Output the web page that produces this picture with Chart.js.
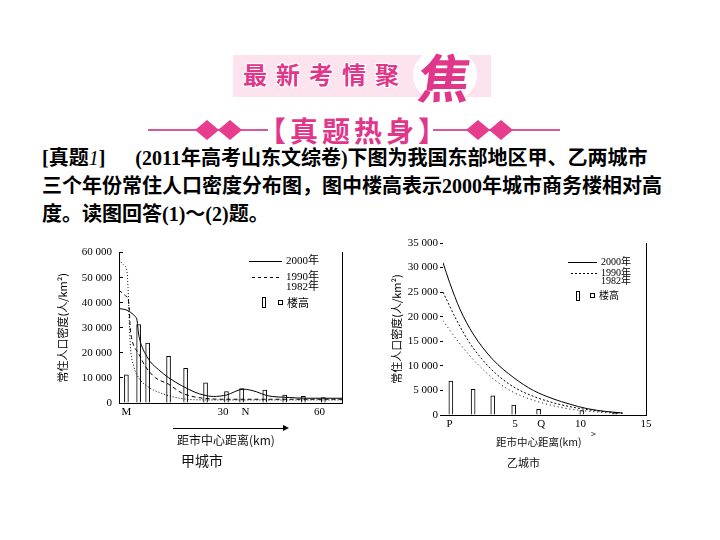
<!DOCTYPE html>
<html>
<head>
<meta charset="utf-8">
<script src="https://cdn.jsdelivr.net/npm/chart.js@4.4.1/dist/chart.umd.min.js"></script>
<style>
body { margin: 0; background: #fff; }
#page { position: relative; width: 720px; height: 540px; overflow: hidden; font-family: "Liberation Serif", "Noto Sans CJK SC", serif; }
.abs { position: absolute; white-space: nowrap; }
.band { left: 233px; top: 55px; width: 258px; height: 42px; background: #fce3ee; }
.circle { left: 413px; top: 47px; width: 64px; height: 56px; border-radius: 50%; background: #fff; }
.head1 { left: 243px; top: 62px; font: bold 24px/24px "Noto Sans CJK SC"; letter-spacing: 9px; color: #e0378a;
	text-shadow: 1px 1px 0 #fff, -1px -1px 0 #fff, 1px -1px 0 #fff, -1px 1px 0 #fff, 0 0 3px #fff; }
.jiao { left: 419px; top: 50px; font: bold 52px/52px "Noto Sans CJK SC"; color: #e0378a; transform: skewX(-8deg); }
.hline { height: 2px; background: #d9589b; top: 129px; }
.dia { width: 24px; height: 20px; background: #e63d8f; clip-path: polygon(50% 0, 100% 50%, 50% 100%, 0 50%); top: 120px; }
.head2 { left: 258px; top: 115px; font: bold 28px/30px "Noto Sans CJK SC"; letter-spacing: 4px; color: #e0378a; }
.q { left: 42px; font-size: 20px; font-weight: bold; line-height: 28px; color: #000; }
.cn { font-family: "Noto Sans CJK SC"; color: #111; line-height: 16px; }
canvas { position: absolute; }
</style>
</head>
<body>
<div id="page">
	<div class="abs band"></div>
	<div class="abs circle"></div>
	<div class="abs head1">最新考情聚</div>
	<div class="abs jiao">焦</div>

	<div class="abs hline" style="left:148px;width:120px"></div>
	<div class="abs hline" style="left:433px;width:127px"></div>
	<div class="abs dia" style="left:195px"></div>
	<div class="abs dia" style="left:218px"></div>
	<div class="abs dia" style="left:466px"></div>
	<div class="abs dia" style="left:489px"></div>
	<div class="abs head2">【真题热身】</div>

	<div class="abs q" style="top:144px">[真题<i style="font-weight:normal">1</i>]<span style="margin-left:30px">(2011年高考山东文综卷)下图为我国东部地区甲、乙两城市</span></div>
	<div class="abs q" style="top:172px">三个年份常住人口密度分布图，图中楼高表示2000年城市商务楼相对高</div>
	<div class="abs q" style="top:200px">度。读图回答(1)～(2)题。</div>

	<canvas id="chartA" width="320" height="240" style="left:40px;top:235px"></canvas>
	<canvas id="chartB" width="300" height="250" style="left:380px;top:230px"></canvas>

	<div class="abs" style="left:173px;top:428px;width:112px;height:0;border-top:1px solid #000"></div>
	<div class="abs" style="left:283px;top:425px;width:0;height:0;border-left:6px solid #000;border-top:3px solid transparent;border-bottom:3px solid transparent"></div>
	<div class="abs cn" style="left:177px;top:432px;font-size:12px">距市中心距离(km)</div>
	<div class="abs cn" style="left:181px;top:452px;font-size:14px">甲城市</div>

	<div class="abs cn" style="left:591px;top:426px;font-size:9px">&gt;</div>
	<div class="abs cn" style="left:496px;top:434px;font-size:10.5px">距市中心距离(km)</div>
	<div class="abs cn" style="left:507px;top:454px;font-size:11px">乙城市</div>
</div>

<script>
// 甲城市
const distA2000 = [-2.3, 0.2, 2.3, 2.8, 3.3, 3.8, 4.9, 6.4, 7.4, 10, 13.1, 17.2, 21.3, 24, 27, 31.1, 36.3, 40.4, 43.5, 50.7, 55.9, 67];
const popA2000 = [37700, 37000, 35100, 34500, 33000, 27500, 22300, 18500, 16500, 13300, 10100, 6900, 4300, 3200, 2600, 3200, 5500, 4500, 3000, 2200, 1900, 1900];
const distA1990 = [-2.3, -0.3, 0.7, 1.2, 1.8, 3.8, 5.9, 9, 13.1, 17.2, 21.3, 24, 30, 67];
const popA1990 = [45000, 42800, 40300, 30000, 24900, 19700, 14600, 10100, 7500, 4000, 2400, 1900, 1500, 1500];
const distA1982 = [-2.3, -0.8, 0.2, 0.5, 1.2, 2.3, 3.8, 6.9, 10, 14.6, 21.3, 30, 67];
const popA1982 = [57000, 55000, 52400, 46000, 23600, 14600, 10100, 6300, 4300, 2400, 1300, 1200, 1200];
const barDistA = [0, 3.8, 6.6, 13.1, 18.4, 24.6, 31.1, 35.8, 43, 49.2, 55, 61.2];
const barHeightA = [11200, 31300, 23900, 18600, 13800, 8000, 4600, 5800, 5200, 3200, 2700, 2200];
const xTickValsA = [0, 30, 37, 60];
const xTickTextA = ['M', '30', 'N', '60'];

// 乙城市
const distB2000 = [-0.5, 0, 0.8, 1.8, 3.3, 4.9, 6.4, 7.9, 9.2, 10.5, 12, 13.2];
const popB2000 = [31000, 27000, 21500, 16500, 11300, 7600, 5000, 3300, 2200, 1300, 700, 400];
const distB1990 = [-0.5, 0.5, 1.5, 2.5, 3.5, 4.9, 6.4, 7.9, 9.2, 10.5, 12, 13.2];
const popB1990 = [25000, 19500, 14800, 11300, 8500, 5700, 3800, 2500, 1700, 1100, 650, 450];
const distB1982 = [-0.5, 0.5, 1.5, 2.5, 3.5, 4.9, 6.4, 7.9, 9.2, 10.5, 12, 13.2];
const popB1982 = [19200, 15500, 12200, 9400, 7000, 4600, 3000, 1900, 1200, 800, 450, 300];
const barDistB = [0.1, 1.8, 3.3, 4.9, 6.8, 10.1, 12.6];
const barHeightB = [6900, 5200, 3900, 2000, 1150, 900, 350];
const xTickValsB = [0, 5, 7, 10, 15];
const xTickTextB = ['P', '5', 'Q', '10', '15'];

const yTitle = '常住人口密度(人/km²)';
const years = ['2000年', '1990年', '1982年'];
const buildingLabel = '楼高';

Chart.defaults.font.family = '"Liberation Serif", serif';
Chart.defaults.font.size = 11;
Chart.defaults.color = '#000';

const pts = (xs, ys) => xs.map((x, i) => ({ x: x, y: ys[i] }));
const fmt = v => v === 0 ? '0' : (v / 1000) + ' 000';

const lineSet = (label, xs, ys, dash) => ({
	type: 'line',
	label: label,
	data: pts(xs, ys),
	borderColor: '#000',
	borderWidth: 1,
	borderDash: dash,
	pointRadius: 0,
	fill: false,
	cubicInterpolationMode: 'monotone',
	order: 1,
});

const barSet = (xs, ys) => ({
	type: 'bar',
	label: buildingLabel,
	data: pts(xs, ys),
	backgroundColor: '#fff',
	borderColor: '#000',
	borderWidth: 1,
	barThickness: 4,
	order: 2,
});

// draws the small legend in the top right of each plot
const legendPlugin = (p) => ({
	id: 'yearLegend',
	afterDraw(chart) {
		const ctx = chart.ctx;
		ctx.save();
		ctx.strokeStyle = '#000';
		ctx.lineWidth = 1;
		ctx.beginPath();
		ctx.moveTo(p.x0, p.y[0] + 0.5);
		ctx.lineTo(p.x1, p.y[0] + 0.5);
		ctx.stroke();
		ctx.setLineDash(p.dash);
		ctx.beginPath();
		ctx.moveTo(p.x0 + 3, p.y[1] + 0.5);
		ctx.lineTo(p.x1, p.y[1] + 0.5);
		ctx.stroke();
		ctx.setLineDash([]);
		ctx.fillStyle = '#000';
		ctx.font = p.size + 'px "Liberation Serif", "Noto Sans CJK SC"';
		ctx.textBaseline = 'middle';
		for (let i = 0; i < 3; i++) {
			ctx.fillText(years[i], p.x1 + 4, p.y[i]);
		}
		ctx.strokeRect(p.barX + 0.5, p.barY + 0.5, 3, p.barH);
		ctx.strokeRect(p.sqX + 0.5, p.barY + p.barH - 6.5, 4, 4);
		ctx.font = p.size + 'px "Noto Sans CJK SC"';
		ctx.fillText(buildingLabel, p.sqX + 9, p.barY + p.barH - 4.5);
		ctx.restore();
	},
});

new Chart(document.getElementById('chartA'), {
	type: 'line',
	data: {
		datasets: [
			lineSet(years[0], distA2000, popA2000, []),
			lineSet(years[1], distA1990, popA1990, [4, 3]),
			lineSet(years[2], distA1982, popA1982, [1, 2]),
			barSet(barDistA, barHeightA),
		],
	},
	options: {
		responsive: false,
		animation: false,
		layout: { padding: { top: 12, right: 18, left: 0, bottom: 0 } },
		plugins: { legend: { display: false }, tooltip: { enabled: false } },
		scales: {
			x: {
				type: 'linear', min: -2.3, max: 67, offset: false,
				grid: { display: false, drawTicks: false },
				border: { color: '#000' },
				ticks: {
					autoSkip: false, maxRotation: 0, padding: 3,
					callback: v => xTickTextA[xTickValsA.indexOf(v)],
				},
				afterBuildTicks: s => { s.ticks = xTickValsA.map(v => ({ value: v })); },
				afterFit: s => { s.height = 72; },
			},
			y: {
				min: 0, max: 60000,
				grid: { display: true, drawOnChartArea: false, drawTicks: true, tickLength: -4, color: '#000' },
				border: { color: '#000' },
				ticks: { stepSize: 10000, padding: 11, callback: fmt },
				title: {
					display: true, text: yTitle,
					font: { family: '"Noto Sans CJK SC"', size: 11 },
					padding: { top: 16, bottom: 0 },
				},
				afterFit: s => { s.width = 79; },
			},
			y2: {
				position: 'right', min: 0, max: 60000,
				grid: { display: false, drawTicks: false },
				ticks: { display: false },
				border: { color: '#000' },
				afterFit: s => { s.width = 0; },
			},
		},
	},
	plugins: [legendPlugin({ x0: 209, x1: 242, y: [26, 42, 52], dash: [3, 3], size: 11, barX: 222, barY: 62, barH: 10, sqX: 238 })],
});

new Chart(document.getElementById('chartB'), {
	type: 'line',
	data: {
		datasets: [
			lineSet(years[0], distB2000, popB2000, []),
			lineSet(years[1], distB1990, popB1990, [2, 2]),
			lineSet(years[2], distB1982, popB1982, [1, 3]),
			barSet(barDistB, barHeightB),
		],
	},
	options: {
		responsive: false,
		animation: false,
		layout: { padding: { top: 13, right: 34, left: 0, bottom: 0 } },
		plugins: { legend: { display: false }, tooltip: { enabled: false } },
		scales: {
			x: {
				type: 'linear', min: -0.5, max: 15, offset: false,
				grid: { display: false, drawTicks: false },
				border: { color: '#000' },
				ticks: {
					autoSkip: false, maxRotation: 0, padding: 3,
					callback: v => xTickTextB[xTickValsB.indexOf(v)],
				},
				afterBuildTicks: s => { s.ticks = xTickValsB.map(v => ({ value: v })); },
				afterFit: s => { s.height = 65; },
			},
			y: {
				min: 0, max: 35000,
				grid: { display: true, drawOnChartArea: false, drawTicks: true, tickLength: 3, color: '#000' },
				border: { display: false },
				ticks: { stepSize: 5000, padding: 2, callback: fmt },
				title: {
					display: true, text: yTitle,
					font: { family: '"Noto Sans CJK SC"', size: 11 },
					padding: { top: 10, bottom: 0 },
				},
				afterFit: s => { s.width = 63; },
			},
			y2: {
				position: 'right', min: 0, max: 35000,
				grid: { display: false, drawTicks: false },
				ticks: { display: false },
				border: { color: '#000' },
				afterFit: s => { s.width = 0; },
			},
		},
	},
	plugins: [legendPlugin({ x0: 188, x1: 217, y: [32, 43, 51], dash: [2, 2], size: 10, barX: 196, barY: 61, barH: 9, sqX: 210 })],
});
</script>
</body>
</html>
